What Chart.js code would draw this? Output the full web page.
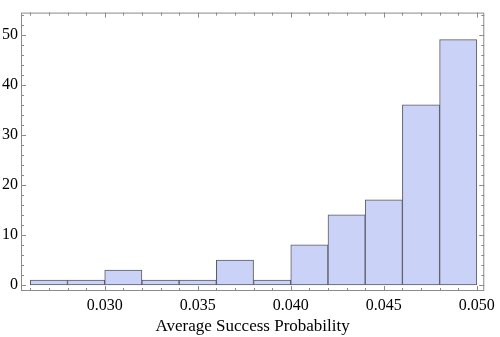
<!DOCTYPE html>
<html>
<head>
<meta charset="utf-8">
<script src="https://cdn.jsdelivr.net/npm/chart.js@4"></script>
<style>
  html, body { margin: 0; padding: 0; background: #fff; }
  #wrap { width: 500px; height: 337px; }
</style>
</head>
<body>
<div id="wrap"><canvas id="hist"></canvas></div>
<script>
// 히스토그램 데이터 (bin 중심값, 개수)
const binCenters = [0.027, 0.029, 0.031, 0.033, 0.035, 0.037, 0.039, 0.041, 0.043, 0.045, 0.047, 0.049];
const counts = [1, 1, 3, 1, 1, 5, 1, 8, 14, 17, 36, 49];
const xTicks = [0.030, 0.035, 0.040, 0.045, 0.050];
const yTicks = [0, 10, 20, 30, 40, 50];

const frameColor = '#8a8a8a';

// Mathematica 스타일 프레임 + 안쪽 눈금
const frameTicks = {
    id: 'frameTicks',
    afterDraw(chart) {
        const { ctx, chartArea: a, scales } = chart;
        const x = scales.x, y = scales.y;
        ctx.save();
        ctx.strokeStyle = frameColor;
        ctx.lineWidth = 1;
        ctx.strokeRect(a.left + 0.5, a.top + 0.5, a.right - a.left - 1, a.bottom - a.top - 1);
        ctx.beginPath();
        // x 눈금 (0.001 간격, 0.005마다 큰 눈금)
        for (let i = 26; i <= 50; i++) {
            const px = Math.round(x.getPixelForValue(i / 1000)) + 0.5;
            const len = i % 5 === 0 ? 5 : 3;
            ctx.moveTo(px, a.bottom);
            ctx.lineTo(px, a.bottom - len);
            ctx.moveTo(px, a.top);
            ctx.lineTo(px, a.top + len);
        }
        // y 눈금 (2 간격, 10마다 큰 눈금)
        for (let v = 0; v <= 54; v += 2) {
            const py = Math.round(y.getPixelForValue(v)) + 0.5;
            const len = v % 10 === 0 ? 5 : 3;
            ctx.moveTo(a.left, py);
            ctx.lineTo(a.left + len, py);
            ctx.moveTo(a.right, py);
            ctx.lineTo(a.right - len, py);
        }
        ctx.stroke();
        ctx.restore();
    }
};

const ctx = document.getElementById('hist');
new Chart(ctx, {
    type: 'bar',
    data: {
        datasets: [{
            data: binCenters.map((c, i) => ({ x: c, y: counts[i] })),
            backgroundColor: 'rgb(203, 210, 247)',
            borderColor: '#5a5a66',
            borderWidth: 1,
            borderSkipped: false,
            barPercentage: 1,
            categoryPercentage: 1
        }]
    },
    options: {
        responsive: true,
        maintainAspectRatio: false,
        animation: false,
        layout: { padding: { top: 2, right: 11, left: 0, bottom: 0 } },
        plugins: {
            legend: { display: false },
            tooltip: { enabled: false }
        },
        scales: {
            x: {
                type: 'linear',
                min: 0.0255,
                max: 0.0504,
                offset: false,
                grid: { display: false, drawTicks: false },
                border: { display: false },
                afterBuildTicks(scale) { scale.ticks = xTicks.map(v => ({ value: v })); },
                afterFit(scale) { scale.height = 46; },
                ticks: {
                    padding: 5,
                    color: '#000',
                    font: { family: 'Liberation Serif', size: 16 },
                    maxRotation: 0,
                    callback: v => v.toFixed(3)
                },
                title: {
                    display: true,
                    text: 'Average Success Probability',
                    color: '#000',
                    font: { family: 'Liberation Serif', size: 17 },
                    padding: { top: 0, bottom: 0 }
                }
            },
            y: {
                min: -1.2,
                max: 54.4,
                grid: { display: false, drawTicks: false },
                border: { display: false },
                afterBuildTicks(scale) { scale.ticks = yTicks.map(v => ({ value: v })); },
                afterFit(scale) { scale.width = 21; },
                ticks: {
                    padding: 3,
                    color: '#000',
                    font: { family: 'Liberation Serif', size: 16 }
                }
            }
        }
    },
    plugins: [frameTicks]
});
</script>
</body>
</html>
